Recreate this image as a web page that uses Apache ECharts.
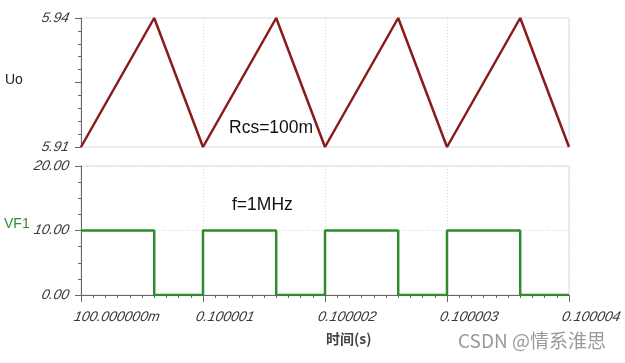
<!DOCTYPE html>
<html><head><meta charset="utf-8">
<script src="https://cdn.jsdelivr.net/npm/echarts@6/dist/echarts.min.js"></script>
<style>html,body{margin:0;padding:0;background:#fff}#c{width:625px;height:363px}</style>
</head><body><div id="c"></div>
<script>
// time offsets in microseconds from 0.1 s
const uoTime = [0, 0.6, 1.0, 1.6, 2.0, 2.6, 3.0, 3.6, 4.0];
const uoVal  = [5.91, 5.94, 5.91, 5.94, 5.91, 5.94, 5.91, 5.94, 5.91];
const vfTime = [0, 0.6, 0.6, 1.0, 1.0, 1.6, 1.6, 2.0, 2.0, 2.6, 2.6, 3.0, 3.0, 3.6, 3.6, 4.0];
const vfVal  = [10, 10, 0, 0, 10, 10, 0, 0, 10, 10, 0, 0, 10, 10, 0, 0];
const xTickValues = [0, 1, 2, 3, 4];
const xTickLabels = ['100.000000m', '0.100001', '0.100002', '0.100003', '0.100004'];
const uoTickValues = [5.91, 5.94];
const uoTickLabels = ['5.91', '5.94'];
const vfTickValues = [0, 10, 20];
const vfTickLabels = ['0.00', '10.00', '20.00'];

const LBL_FONT = 'italic 14px "Liberation Sans"';
const LBL_COLOR = '#3a3a3a';
const frame = '#dcdcdc';
const axisCol = '#666';

const chart = echarts.init(document.getElementById('c'));
chart.setOption({
  animation: false,
  grid: [
    {left: 81, right: 56, top: 18, height: 129, show: true, borderColor: frame, borderWidth: 1},
    {left: 81, right: 56, top: 166, height: 129, show: true, borderColor: frame, borderWidth: 1}
  ],
  xAxis: [
    {type: 'value', gridIndex: 0, min: 0, max: 4, interval: 1,
     axisLine: {show: false}, axisTick: {show: false}, axisLabel: {show: false},
     splitLine: {show: true, lineStyle: {color: '#d6d6d6', type: [1, 2]}}},
    {type: 'value', gridIndex: 1, min: 0, max: 4, interval: 1,
     axisLine: {show: true, lineStyle: {color: axisCol, width: 1}},
     axisTick: {show: true, length: 7, lineStyle: {color: axisCol}},
     minorTick: {show: true, splitNumber: 10, length: 3, lineStyle: {color: axisCol}},
     axisLabel: {show: false},
     splitLine: {show: true, lineStyle: {color: '#d6d6d6', type: [1, 2]}}}
  ],
  yAxis: [
    {type: 'value', gridIndex: 0, min: 5.91, max: 5.94, interval: 0.015,
     axisLine: {show: true, lineStyle: {color: axisCol}},
     axisTick: {show: true, length: 6, lineStyle: {color: axisCol}},
     minorTick: {show: true, splitNumber: 5, length: 3, lineStyle: {color: axisCol}},
     axisLabel: {show: false},
     splitLine: {show: false}},
    {type: 'value', gridIndex: 1, min: 0, max: 20, interval: 10,
     axisLine: {show: true, lineStyle: {color: axisCol}},
     axisTick: {show: true, length: 6, lineStyle: {color: axisCol}},
     minorTick: {show: true, splitNumber: 4, length: 3, lineStyle: {color: axisCol}},
     axisLabel: {show: false},
     splitLine: {show: true, lineStyle: {color: '#d6d6d6', type: [1, 2]}}}
  ],
  series: [
    {type: 'line', xAxisIndex: 0, yAxisIndex: 0, showSymbol: false, symbol: 'none',
     data: uoTime.map((t, i) => [t, uoVal[i]]),
     lineStyle: {color: '#8b1a1a', width: 2.5}},
    {type: 'line', xAxisIndex: 1, yAxisIndex: 1, showSymbol: false, symbol: 'none',
     data: vfTime.map((t, i) => [t, vfVal[i]]),
     lineStyle: {color: '#2e8b2e', width: 2.5}}
  ]
});

// Slanted tick labels, positioned through the axes' own scales
const SKEW = -0.2;
const labels = [];
xTickValues.forEach((v, i) => {
  const p = chart.convertToPixel({xAxisIndex: 1, yAxisIndex: 1}, [v, 0]);
  labels.push({type: 'text', x: p[0] - 7, y: p[1] + 22, skewX: SKEW,
    style: {text: xTickLabels[i], font: LBL_FONT, fill: LBL_COLOR, align: 'left', verticalAlign: 'middle'}});
});
uoTickValues.forEach((v, i) => {
  const p = chart.convertToPixel({xAxisIndex: 0, yAxisIndex: 0}, [0, v]);
  labels.push({type: 'text', x: p[0] - 12, y: p[1], skewX: SKEW,
    style: {text: uoTickLabels[i], font: LBL_FONT, fill: LBL_COLOR, align: 'right', verticalAlign: 'middle'}});
});
vfTickValues.forEach((v, i) => {
  const p = chart.convertToPixel({xAxisIndex: 1, yAxisIndex: 1}, [0, v]);
  labels.push({type: 'text', x: p[0] - 12, y: p[1], skewX: SKEW,
    style: {text: vfTickLabels[i], font: LBL_FONT, fill: LBL_COLOR, align: 'right', verticalAlign: 'middle'}});
});

chart.setOption({
  graphic: labels.concat([
    {type: 'text', left: 5, top: 73, style: {text: 'Uo', font: '14px "Liberation Sans"', fill: '#222'}},
    {type: 'text', left: 4, top: 217, style: {text: 'VF1', font: '14px "Liberation Sans"', fill: '#2e8b2e'}},
    {type: 'text', left: 229, top: 119, style: {text: 'Rcs=100m', font: '17.5px "Liberation Sans"', fill: '#111'}},
    {type: 'text', left: 232, top: 196, style: {text: 'f=1MHz', font: '17.5px "Liberation Sans"', fill: '#111'}},
    {type: 'text', left: 326, top: 332, style: {text: '时间(s)', font: 'bold 14px "Noto Sans CJK SC", sans-serif', fill: '#444'}},
    {type: 'text', left: 458, top: 331, style: {text: 'CSDN @情系淮思', font: '19px "Noto Sans CJK SC", sans-serif', fill: '#999'}}
  ])
});
</script>
</body></html>
